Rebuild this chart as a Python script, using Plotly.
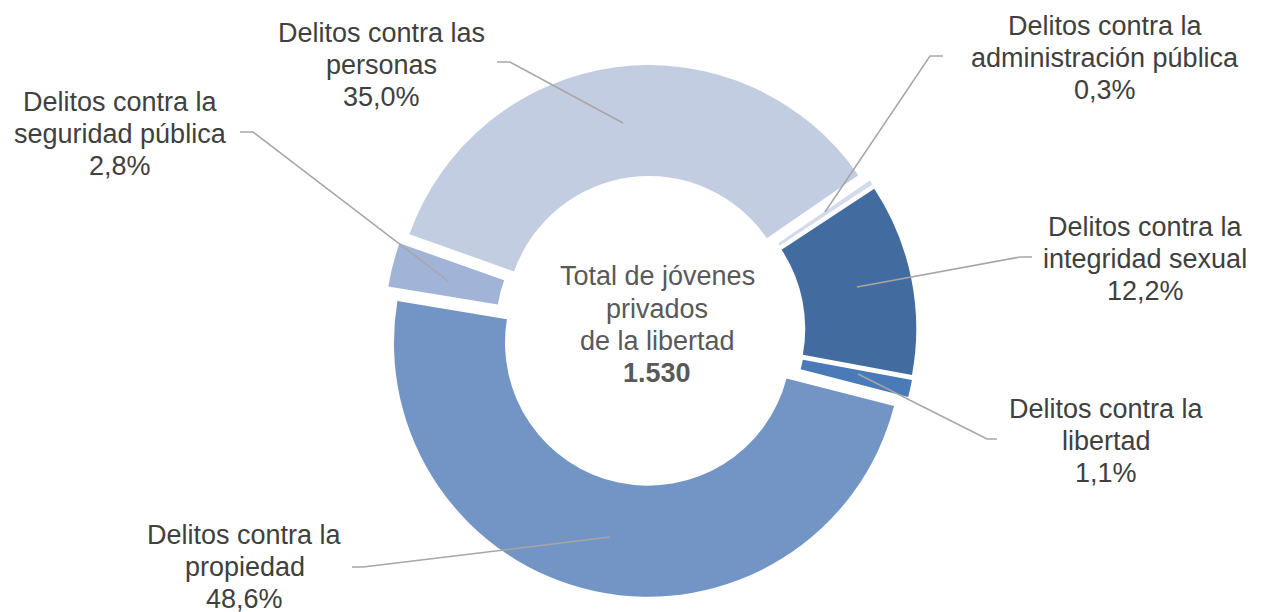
import plotly.graph_objects as go

# datos: jóvenes privados de la libertad por tipo de delito (%)
categorias = [
    "Delitos contra la administración pública",
    "Delitos contra la integridad sexual",
    "Delitos contra la libertad",
    "Delitos contra la propiedad",
    "Delitos contra la seguridad pública",
    "Delitos contra las personas",
]
porcentajes = [0.3, 12.2, 1.1, 48.6, 2.8, 35.0]
etiquetas = [
    ["Delitos contra la", "administración pública"],
    ["Delitos contra la", "integridad sexual"],
    ["Delitos contra la", "libertad"],
    ["Delitos contra la", "propiedad"],
    ["Delitos contra la", "seguridad pública"],
    ["Delitos contra las", "personas"],
]
total_jovenes = 1530
colores = ["#D3DBEB", "#426CA0", "#4A7AB8", "#7395C6", "#A1B4D7", "#C2CDE2"]

# la pagina tiene 8px de margen en el body
OFF = 8
W, H = 1262 - OFF, 612 - OFF
FUENTE = "Liberation Sans, Arial, sans-serif"


def fx(x):
    return (x - OFF) / W


def fy(y):
    return 1 - (y - OFF) / H


# posicion de cada etiqueta (centro, linea del medio) en pixeles de pantalla
pos_etiquetas = [(1105, 58), (1145, 259), (1106, 441), (245, 567), (120, 134), (381, 65)]
# lineas guia: punto de la etiqueta -> codo -> punto dentro del anillo
guias = [
    [(943, 56), (930, 56), (825, 212)],
    [(1032, 257), (1020, 257), (857, 287)],
    [(997, 439), (987, 439), (858, 374)],
    [(352, 567), (363, 567), (610, 537)],
    [(240, 132), (253, 132), (448, 281)],
    [(497, 62), (510, 62), (623, 123)],
]
PASO = 32.3

fig = go.Figure(go.Pie(
    labels=categorias,
    values=porcentajes,
    hole=0.563,
    sort=False,
    direction="clockwise",
    rotation=55.5,
    pull=[0.047] * len(porcentajes),
    marker=dict(colors=colores, line=dict(width=0)),
    textinfo="none",
    hoverinfo="label+percent",
    showlegend=False,
    domain=dict(x=[fx(384.5), fx(916.5)], y=[fy(597), fy(65)]),
))


def texto_centrado(lineas, x, y_medio, color, negrita_ultima=False):
    n = len(lineas)
    for i, t in enumerate(lineas):
        if negrita_ultima and i == n - 1:
            t = "<b>" + t + "</b>"
        fig.add_annotation(
            x=fx(x), y=fy(y_medio + (i - (n - 1) / 2) * PASO),
            xref="paper", yref="paper", text=t, showarrow=False,
            xanchor="center", yanchor="middle",
            font=dict(family=FUENTE, size=27, color=color),
        )


for lineas, v, (x, y) in zip(etiquetas, porcentajes, pos_etiquetas):
    pct = f"{v:.1f}".replace(".", ",") + "%"
    texto_centrado(lineas + [pct], x, y, "#404040")

total_txt = f"{total_jovenes:,}".replace(",", ".")
texto_centrado(["Total de jóvenes", "privados", "de la libertad", total_txt],
               657, 324.8, "#595959", negrita_ultima=True)

for g in guias:
    ruta = "M " + " L ".join(f"{fx(x)} {fy(y)}" for x, y in g)
    fig.add_shape(type="path", path=ruta, xref="paper", yref="paper",
                  line=dict(color="#A6A6A6", width=1.5))

fig.update_layout(
    width=W, height=H,
    margin=dict(l=0, r=0, t=0, b=0),
    paper_bgcolor="white",
    plot_bgcolor="white",
)

fig.write_html("out.html")
